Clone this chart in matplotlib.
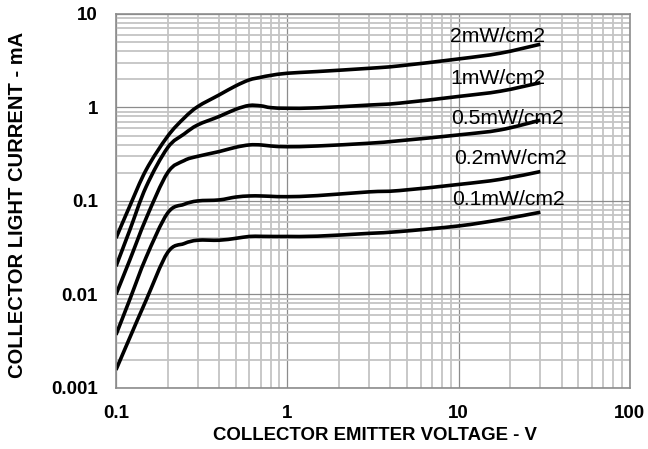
import numpy as np
import matplotlib
matplotlib.use("Agg")
import matplotlib.pyplot as plt
from matplotlib.path import Path
from matplotlib.patches import PathPatch
from matplotlib.ticker import LogLocator, FixedLocator, FixedFormatter

plt.rcParams["font.family"] = ["Liberation Sans", "DejaVu Sans"]

# collector-emitter voltage (V)
vce = [0.1, 0.12, 0.15, 0.2, 0.25, 0.3, 0.4, 0.5, 0.6, 0.7, 0.8, 1.0, 1.5, 3, 4.5, 10, 17.5, 30]

# collector light current (mA) per irradiance
ic_2mw = [0.040, 0.087, 0.215, 0.49, 0.77, 1.02, 1.36, 1.70, 1.97, 2.10, 2.20, 2.32, 2.42, 2.62, 2.78, 3.30, 3.80, 4.74]
ic_1mw = [0.020, 0.048, 0.142, 0.37, 0.52, 0.65, 0.80, 0.955, 1.05, 1.04, 0.995, 0.98, 0.99, 1.06, 1.11, 1.31, 1.49, 1.84]
ic_05mw = [0.010, 0.023, 0.065, 0.20, 0.27, 0.30, 0.337, 0.375, 0.397, 0.397, 0.387, 0.38, 0.387, 0.414, 0.44, 0.508, 0.575, 0.73]
ic_02mw = [0.0037, 0.0087, 0.025, 0.074, 0.092, 0.100, 0.1025, 0.110, 0.113, 0.113, 0.112, 0.111, 0.114, 0.125, 0.129, 0.150, 0.170, 0.206]
ic_01mw = [0.00156, 0.0034, 0.0087, 0.028, 0.035, 0.038, 0.038, 0.0398, 0.0417, 0.0418, 0.0417, 0.0417, 0.042, 0.045, 0.047, 0.054, 0.063, 0.0757]

series = [ic_2mw, ic_1mw, ic_05mw, ic_02mw, ic_01mw]
labels = ["2mW/cm2", "1mW/cm2", "0.5mW/cm2", "0.2mW/cm2", "0.1mW/cm2"]

x_ticks = [0.1, 1, 10, 100]
x_tick_labels = ["0.1", "1", "10", "100"]
y_ticks = [0.001, 0.01, 0.1, 1, 10]
y_tick_labels = ["0.001", "0.01", "0.1", "1", "10"]


def smooth_curve(x, y):
    # catmull-rom through the read points, done in log-log space,
    # handed to matplotlib as cubic bezier segments
    lx = np.log10(x)
    ly = np.log10(y)
    pts = np.column_stack([lx, ly])
    n = len(pts)
    verts = [pts[0]]
    codes = [Path.MOVETO]
    for i in range(n - 1):
        p0 = pts[i - 1] if i > 0 else pts[i]
        p1 = pts[i]
        p2 = pts[i + 1]
        p3 = pts[i + 2] if i + 2 < n else pts[i + 1]
        c1 = p1 + (p2 - p0) / 6.0
        c2 = p2 - (p3 - p1) / 6.0
        verts += [c1, c2, p2]
        codes += [Path.CURVE4] * 3
    verts = 10 ** np.array(verts)
    return Path(verts, codes)


def main():
    fig = plt.figure(figsize=(6.48, 4.49), dpi=100)
    ax = fig.add_axes([0.179, 0.136, 0.793, 0.833])
    ax.set_xscale("log")
    ax.set_yscale("log")
    ax.set_xlim(0.1, 100)
    ax.set_ylim(0.001, 10)

    ax.xaxis.set_major_locator(FixedLocator(x_ticks))
    ax.xaxis.set_major_formatter(FixedFormatter(x_tick_labels))
    ax.yaxis.set_major_locator(FixedLocator(y_ticks))
    ax.yaxis.set_major_formatter(FixedFormatter(y_tick_labels))
    ax.xaxis.set_minor_locator(LogLocator(base=10, subs=range(2, 10), numticks=20))
    ax.yaxis.set_minor_locator(LogLocator(base=10, subs=range(2, 10), numticks=20))

    ax.grid(which="minor", color="#c4c4c4", linewidth=1.3)
    ax.grid(which="major", color="#8c8c8c", linewidth=0.9)
    ax.set_axisbelow(True)
    ax.tick_params(which="both", length=0)
    ax.tick_params(axis="x", pad=12)
    ax.tick_params(axis="y", pad=13)
    for lab in ax.get_xticklabels() + ax.get_yticklabels():
        lab.set_fontsize(13.5)
        lab.set_fontweight("bold")

    for s in ax.spines.values():
        s.set_color("#8c8c8c")
        s.set_linewidth(1.2)

    for ic in series:
        patch = PathPatch(smooth_curve(vce, ic), fill=False, edgecolor="black",
                          linewidth=2.6, capstyle="butt", joinstyle="round")
        ax.add_patch(patch)

    label_pos = [(8.9, 5.02), (8.9, 1.78), (9.0, 0.667), (9.4, 0.249), (9.2, 0.0906)]
    for (lx, ly), text in zip(label_pos, labels):
        ax.text(lx, ly, text, fontsize=15.2, va="baseline", ha="left")

    fig.text(375 / 648, 1 - 436 / 449, "COLLECTOR EMITTER VOLTAGE - V",
             fontsize=13.4, fontweight="bold", ha="center", va="center")
    fig.text(17.5 / 648, 1 - 204.5 / 449, "COLLECTOR LIGHT CURRENT - mA",
             fontsize=14.5, fontweight="bold", ha="center", va="center",
             rotation=90)

    fig.savefig("out.png", dpi=100)


if __name__ == "__main__":
    main()
